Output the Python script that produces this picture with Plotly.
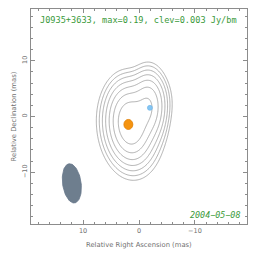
import numpy as np
import plotly.graph_objects as go

# ---------------- data ----------------
source_name = "J0935+3633"
peak_flux = 0.19          # Jy/beam
clev = 0.003              # Jy/beam
obs_date = "2004-05-08"

x_range = [19.3, -19.3]   # relative RA (mas), east to the left
y_range = [-19.3, 19.3]   # relative Dec (mas)
major_ticks = [10, 0, -10]
major_labels = ["10", "0", "\u221210"]

# beam-convolved Gaussian components of the brightness model
comp_x = [1.6, 1.5, -1.7, -1.0]        # mas
comp_y = [-1.2, -1.8, 1.7, 3.0]        # mas
comp_peak = [0.15, 0.04, 0.085, 0.012] # Jy/beam
comp_smaj = [3.0, 3.6, 2.8, 2.2]       # mas (sigma)
comp_smin = [1.7, 2.3, 1.4, 2.0]       # mas (sigma)
comp_pa = [5, 5, 0, 0]                 # deg, north through east

# contour levels: base * 2^k
contour_base = 0.0015
n_levels = 7

# model component markers
core_xy = (1.9, -1.43)
core_size = (1.6, 1.8)
knot_xy = (-1.95, 1.55)
knot_size = (0.9, 0.9)

# restoring beam
beam_xy = (12.0, -12.0)
beam_maj, beam_min, beam_pa = 7.1, 3.3, 8.0

# ---------------- field ----------------
gx = np.linspace(-19.3, 19.3, 260)
gy = np.linspace(-19.3, 19.3, 260)
X, Y = np.meshgrid(gx, gy)
I = np.zeros_like(X)
for cx, cy, p, sa, sb, pa in zip(comp_x, comp_y, comp_peak, comp_smaj, comp_smin, comp_pa):
    t = np.radians(pa)
    dx, dy = X - cx, Y - cy
    u = dx * np.sin(t) + dy * np.cos(t)
    v = dx * np.cos(t) - dy * np.sin(t)
    I += p * np.exp(-(u ** 2 / (2 * sa ** 2) + v ** 2 / (2 * sb ** 2)))
Z = np.log2(np.maximum(I, 1e-12) / contour_base)

grey = "#9b9b9b"
fig = go.Figure()
fig.add_trace(go.Contour(
    x=gx, y=gy, z=Z, autocontour=False,
    contours=dict(start=0, end=n_levels - 1, size=1, coloring="lines"),
    colorscale=[[0, grey], [1, grey]],
    line=dict(width=0.8, smoothing=1.0),
    showscale=False, hoverinfo="skip",
))

# beam ellipse
th = np.linspace(0, 2 * np.pi, 80)
t = np.radians(beam_pa)
a, b = beam_maj / 2, beam_min / 2
bu, bv = a * np.cos(th), b * np.sin(th)
bx = beam_xy[0] + bu * np.sin(t) + bv * np.cos(t)
by = beam_xy[1] + bu * np.cos(t) - bv * np.sin(t)
fig.add_trace(go.Scatter(x=bx, y=by, mode="lines", fill="toself",
                         fillcolor="#6e7e8e", line=dict(color="#66768a", width=0.8),
                         hoverinfo="skip", showlegend=False))

shapes = [
    dict(type="circle", xref="x", yref="y",
         x0=core_xy[0] - core_size[0] / 2, x1=core_xy[0] + core_size[0] / 2,
         y0=core_xy[1] - core_size[1] / 2, y1=core_xy[1] + core_size[1] / 2,
         fillcolor="#f5930f", line=dict(color="#e07c00", width=0.8)),
    dict(type="circle", xref="x", yref="y",
         x0=knot_xy[0] - knot_size[0] / 2, x1=knot_xy[0] + knot_size[0] / 2,
         y0=knot_xy[1] - knot_size[1] / 2, y1=knot_xy[1] + knot_size[1] / 2,
         fillcolor="#85c5f2", line=dict(color="#6ab4ea", width=0.6)),
]

green = "#3a9a3a"
annotations = [
    dict(text=f"{source_name}, max={peak_flux}, clev={clev} Jy/bm",
         x=0.498, y=0.949, xref="paper", yref="paper", showarrow=False,
         xanchor="center", yanchor="middle",
         font=dict(family="DejaVu Sans Mono", size=8.6, color=green)),
    dict(text=f"<i>{obs_date.replace('-', '\u2212')}</i>",
         x=0.977, y=0.043, xref="paper", yref="paper", showarrow=False,
         xanchor="right", yanchor="middle",
         font=dict(family="DejaVu Sans Mono", size=8.4, color=green)),
    dict(text="Relative Right Ascension (mas)",
         x=0.501, y=-0.096, xref="paper", yref="paper", showarrow=False,
         xanchor="center", yanchor="middle",
         font=dict(family="DejaVu Sans", size=6.8, color="#707070")),
    dict(text="Relative Declination (mas)", textangle=-90,
         x=-0.079, y=0.5, xref="paper", yref="paper", showarrow=False,
         xanchor="center", yanchor="middle",
         font=dict(family="DejaVu Sans", size=6.8, color="#707070")),
]

axis_common = dict(
    showgrid=False, zeroline=False, showline=True, linecolor="#8c8c8c", linewidth=1,
    mirror="ticks", ticks="inside", ticklen=4, tickcolor="#8c8c8c", tickwidth=1,
    tickvals=major_ticks, ticktext=major_labels,
    tickfont=dict(family="DejaVu Sans", size=6.5, color="#707070"),
    minor=dict(dtick=2, ticks="inside", ticklen=2, tickcolor="#8c8c8c", tickwidth=1, showgrid=False),
)

fig.update_layout(
    width=264, height=262,
    margin=dict(l=31, r=17.3, t=9, b=37.7),
    paper_bgcolor="white", plot_bgcolor="white",
    showlegend=False, hovermode=False,
    xaxis=dict(range=x_range, **axis_common),
    yaxis=dict(range=y_range, tickangle=-90, **axis_common),
    shapes=shapes, annotations=annotations,
)
fig.write_html("out.html", config={"displayModeBar": False, "staticPlot": True},
               post_script="document.body.style.margin='0';document.body.style.overflow='hidden';")
